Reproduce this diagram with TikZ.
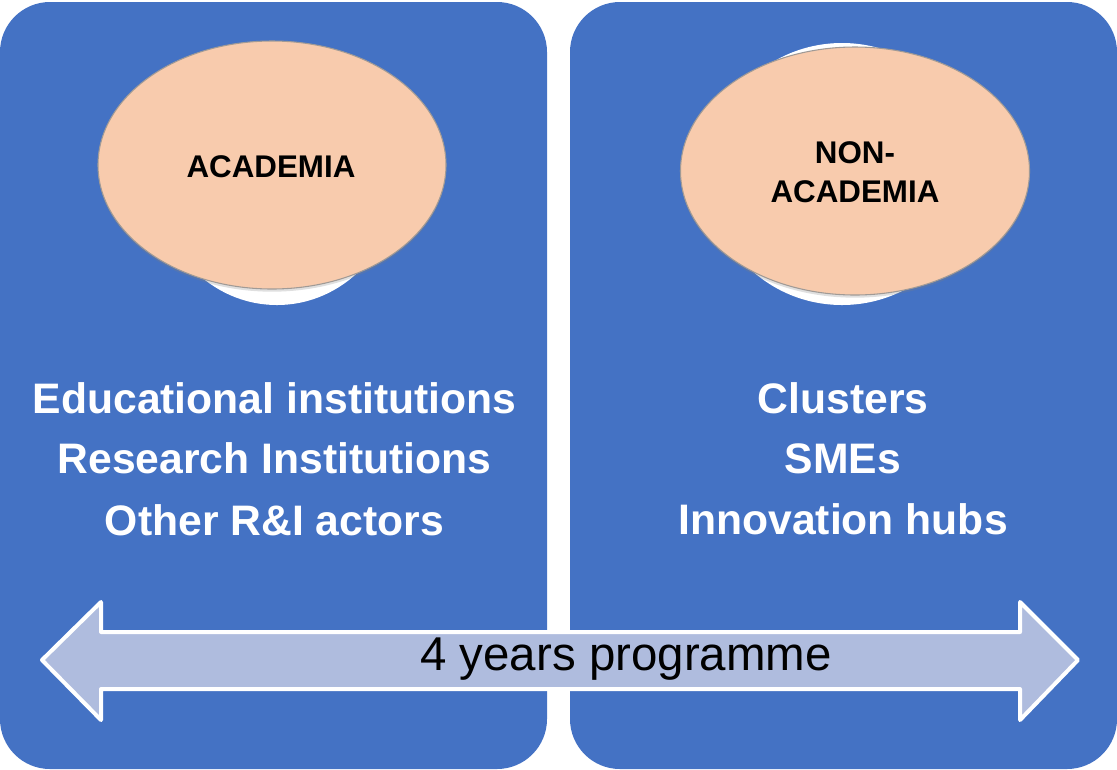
\documentclass[tikz,border=0pt]{standalone}
\usepackage{fontspec}
\setmainfont{Liberation Sans}
\usetikzlibrary{shapes.geometric,shadows}
\definecolor{panelblue}{HTML}{4472C4}
\definecolor{peach}{HTML}{F8CBAD}
\definecolor{arrowfill}{HTML}{AFBCDE}
\definecolor{rimgray}{HTML}{A09A96}
\tikzset{
  panel/.style={rectangle, rounded corners=37.5pt, fill=panelblue, draw=none},
  disc/.style={ellipse, fill=white, draw=none, inner sep=0pt},
  bubble/.style={ellipse, fill=peach, draw=rimgray, line width=0.8pt, inner sep=0pt,
    drop shadow={opacity=0.25, shadow xshift=0pt, shadow yshift=-2pt}},
  bubbletext/.style={font=\bfseries\fontsize{23.5}{29}\selectfont, text=black, anchor=base, inner sep=0pt},
  bodytext/.style={font=\bfseries\fontsize{32}{38}\selectfont, text=white, anchor=base, inner sep=0pt},
  bigarrow/.style={fill=arrowfill, draw=white, line width=3pt, line join=round},
  arrowtext/.style={font=\fontsize{35.6}{42}\selectfont, text=black, anchor=base, inner sep=0pt}
}
\begin{document}
\begin{tikzpicture}[x=0.75pt,y=-0.75pt]
\useasboundingbox (0,0) rectangle (1117,769);
% panels
\node[panel, minimum width=547*0.75pt, minimum height=767*0.75pt] (lpanel) at (273.5,385.5) {};
\node[panel, minimum width=547*0.75pt, minimum height=767*0.75pt] (rpanel) at (843.5,385.5) {};
% discs behind bubbles
\node[disc, minimum width=180pt, minimum height=187.5pt] (ldisc) at (277,180) {};
\node[disc, minimum width=200pt, minimum height=196.5pt] (rdisc) at (842,174) {};
% bubbles
\node[bubble, minimum width=261pt, minimum height=186pt] (lbub) at (272,165) {};
\node[bubble, minimum width=261.75pt, minimum height=186pt] (rbub) at (855,171) {};
\node[bubbletext] (lbubt) at (271,177) {ACADEMIA};
\node[bubbletext] (rbubt1) at (855,163) {NON-};
\node[bubbletext] (rbubt2) at (855,202) {ACADEMIA};
% body texts
\node[bodytext] (l1) at (274.5,413) {Educational institutions};
\node[bodytext] (l2) at (274.5,473) {Research Institutions};
\node[bodytext] (l3) at (274.5,535) {Other R\&I actors};
\node[bodytext] (r1) at (843,413) {Clusters};
\node[bodytext] (r2) at (843,473) {SMEs};
\node[bodytext] (r3) at (843,534) {Innovation hubs};
% double arrow
\draw[bigarrow] (42,660) -- (101,602) -- (101,632) -- (1020,632) -- (1020,602)
  -- (1078,660) -- (1020,720) -- (1020,689) -- (101,689) -- (101,720) -- cycle;
\node[arrowtext] (prog) at (626,670) {4 years programme};
\end{tikzpicture}
\end{document}
